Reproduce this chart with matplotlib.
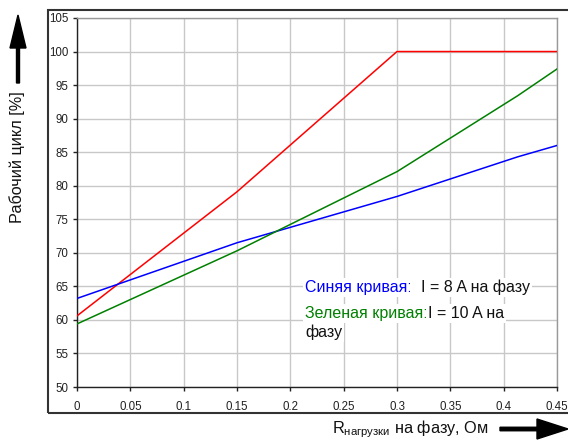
import matplotlib
matplotlib.use("Agg")
import matplotlib.pyplot as plt
from matplotlib.patches import FancyArrow, Rectangle

plt.rcParams["font.family"] = ["Liberation Sans", "DejaVu Sans"]
plt.rcParams["mathtext.fontset"] = "custom"
plt.rcParams["mathtext.rm"] = "Liberation Sans"

# data
x_red = [0.0, 0.15, 0.3, 0.45]
y_red = [60.6, 79.1, 100.0, 100.0]
x_blue = [0.0, 0.15, 0.3, 0.413, 0.45]
y_blue = [63.2, 71.5, 78.4, 84.3, 86.0]
x_green = [0.0, 0.15, 0.3, 0.413, 0.45]
y_green = [59.4, 70.3, 82.1, 93.4, 97.4]

x_ticks = [0, 0.05, 0.1, 0.15, 0.2, 0.25, 0.3, 0.35, 0.4, 0.45]
x_tick_labels = ["0", "0.05", "0.1", "0.15", "0.2", "0.25", "0.3", "0.35", "0.4", "0.45"]
y_ticks = list(range(50, 106, 5))

W, H = 568, 441


def main() -> None:
    fig = plt.figure(figsize=(W / 100, H / 100), dpi=100)
    ax = fig.add_axes([77 / W, 1 - 387 / H, (557 - 77) / W, (387 - 18) / H])

    ax.plot(x_red, y_red, color="#ff0000", lw=1.1, zorder=3)
    ax.plot(x_blue, y_blue, color="#0000ff", lw=1.1, zorder=3)
    ax.plot(x_green, y_green, color="#008000", lw=1.1, zorder=3)

    ax.set_xlim(0, 0.45)
    ax.set_ylim(50, 105)
    ax.set_xticks(x_ticks)
    ax.set_xticklabels(x_tick_labels)
    ax.set_yticks(y_ticks)
    ax.grid(True, color="#c8c8c8", lw=1.0, zorder=0)
    ax.set_axisbelow(True)
    ax.tick_params(direction="out", length=3, width=1, labelsize=8.3,
                   colors="#222222")
    ax.tick_params(axis="x", pad=7)
    ax.tick_params(axis="y", pad=3)
    for side in ("left", "bottom"):
        ax.spines[side].set_color("#222222")
        ax.spines[side].set_linewidth(1.0)
    for side in ("top", "right"):
        ax.spines[side].set_color("#999999")
        ax.spines[side].set_linewidth(1.0)

    # annotation texts with white background
    fs = 11.5
    box = dict(facecolor="white", edgecolor="none", pad=1.5)
    t1 = ax.text(0.214, 64.8, "Синяя кривая:", color="#0000ff", fontsize=fs,
                 va="center", ha="left", bbox=box, zorder=4)
    ax.annotate("  I = 8 A на фазу", xy=(1, 0), xycoords=t1, va="bottom",
                ha="left", fontsize=fs, color="#111111", bbox=box, zorder=4)
    t2 = ax.text(0.214, 61.0, "Зеленая кривая:", color="#008000", fontsize=fs,
                 va="center", ha="left", bbox=box, zorder=4)
    ax.annotate("I = 10 A на", xy=(1, 0), xycoords=t2, va="bottom",
                ha="left", fontsize=fs, color="#111111", bbox=box, zorder=4)
    ax.text(0.214, 58.1, "фазу", color="#111111", fontsize=fs,
            va="center", ha="left", bbox=box, zorder=4)

    # outer frame
    fig.add_artist(Rectangle((47.5 / W, 1 - 413 / H), 1.0, (413 - 10) / H,
                             transform=fig.transFigure, fill=False,
                             edgecolor="#333333", lw=1.5, clip_on=False))

    # axis labels
    fig.text(17 / W, 1 - 157 / H, "Рабочий цикл [%]", rotation=90,
             ha="center", va="center", fontsize=11.7, color="#111111")
    fig.text(332 / W, 1 - 433 / H, r"R$_{\mathrm{нагрузки}}$ на фазу, Ом",
             ha="left", va="baseline", fontsize=11.7, color="#111111")

    # arrows (in inches from the lower-left corner)
    fig.add_artist(FancyArrow(0.18, (H - 83) / 100, 0, 0.68, width=0.03,
                              head_width=0.16, head_length=0.33,
                              length_includes_head=True, color="black",
                              transform=fig.dpi_scale_trans))
    fig.add_artist(FancyArrow(5.0, (H - 429) / 100, 0.68, 0, width=0.035,
                              head_width=0.2, head_length=0.31,
                              length_includes_head=True, color="black",
                              transform=fig.dpi_scale_trans))

    fig.savefig("out.png", dpi=100)
    plt.close(fig)


if __name__ == "__main__":
    main()
